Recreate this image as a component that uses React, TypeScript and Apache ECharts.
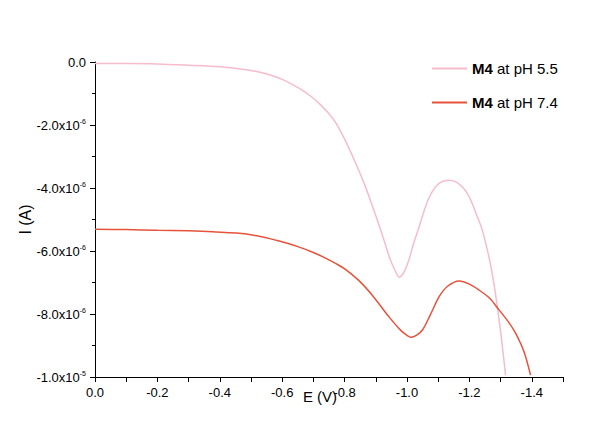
import React, { useEffect, useRef } from "react";
import * as echarts from "echarts";

// E (V) and I (x1e-6 A)
const phLowE = [0, -0.1, -0.2, -0.3, -0.4, -0.5, -0.55, -0.6, -0.655, -0.7, -0.72, -0.75, -0.773, -0.8, -0.826, -0.85, -0.869, -0.89, -0.911, -0.93, -0.943, -0.96, -0.975, -0.99, -1.007, -1.02, -1.039, -1.055, -1.071, -1.09, -1.103, -1.12, -1.135, -1.155, -1.177, -1.195, -1.209, -1.225, -1.241, -1.257, -1.27, -1.282, -1.3, -1.316];
const phLowI = [-0.05, -0.05, -0.06, -0.1, -0.15, -0.27, -0.38, -0.55, -0.84, -1.15, -1.33, -1.64, -1.95, -2.45, -3.0, -3.55, -4.02, -4.6, -5.2, -5.77, -6.18, -6.58, -6.83, -6.68, -6.25, -5.8, -5.23, -4.72, -4.3, -3.98, -3.85, -3.77, -3.75, -3.8, -3.96, -4.2, -4.49, -4.9, -5.33, -5.95, -6.55, -7.25, -8.55, -9.95];

const phHighE = [0, -0.1, -0.2, -0.3, -0.377, -0.485, -0.59, -0.65, -0.698, -0.75, -0.783, -0.805, -0.85, -0.89, -0.943, -0.98, -1.0, -1.012, -1.03, -1.05, -1.075, -1.103, -1.13, -1.167, -1.2, -1.231, -1.265, -1.295, -1.325, -1.348, -1.375, -1.396];
const phHighI = [-5.31, -5.32, -5.34, -5.36, -5.39, -5.46, -5.68, -5.86, -6.04, -6.28, -6.46, -6.6, -6.98, -7.42, -8.1, -8.52, -8.68, -8.74, -8.68, -8.5, -8.02, -7.45, -7.12, -6.95, -7.05, -7.24, -7.5, -7.87, -8.25, -8.61, -9.2, -9.94];

const seriesNames = ["M4 at pH 5.5", "M4 at pH 7.4"];
const seriesColors = ["#f6bccb", "#e5533a"];

const toPairs = (xs: number[], ys: number[]) => xs.map((x, i) => [x, ys[i]]);

export default function App() {
  const ref = useRef<HTMLDivElement>(null);
  useEffect(() => {
    if (!ref.current) return;
    const chart = echarts.init(ref.current, null, { renderer: "svg" });
    const font = "Liberation Sans, Arial, sans-serif";
    chart.setOption({
      animation: false,
      backgroundColor: "#ffffff",
      textStyle: { fontFamily: font },
      grid: { left: 87, top: 54, right: 45, bottom: 47, containLabel: false, outerBoundsMode: "none" },
      legend: {
        orient: "vertical",
        left: 419,
        top: 47,
        itemGap: 17,
        itemWidth: 35,
        itemHeight: 2,
        icon: "rect",
        data: seriesNames,
        textStyle: {
          fontFamily: font,
          fontSize: 15,
          color: "#000",
          lineHeight: 17,
          rich: { b: { fontWeight: "bold", fontSize: 15, fontFamily: font, color: "#000" } },
        },
        formatter: (name: string) => name.replace("M4", "{b|M4}"),
      },
      xAxis: {
        type: "value",
        min: -1.5,
        max: 0,
        interval: 0.1,
        inverse: true,
        name: "E (V)",
        nameLocation: "middle",
        nameGap: 12,
        nameMoveOverlap: false,
        nameTextStyle: { fontSize: 15, color: "#000", fontFamily: font, padding: [0, 18, 0, 0] },
        splitLine: { show: false },
        axisLine: { onZero: false, lineStyle: { color: "#000", width: 1 } },
        axisTick: { length: 5, lineStyle: { color: "#000" } },
        axisLabel: {
          fontSize: 13,
          color: "#000",
          margin: 9,
          showMaxLabel: true,
          showMinLabel: true,
          formatter: (v: number) => {
            const k = Math.round(v * 10);
            return k % 2 === 0 ? (k / 10).toFixed(1) : "";
          },
        },
      },
      yAxis: {
        type: "value",
        min: -10,
        max: 0,
        interval: 2,
        name: "I (A)",
        nameLocation: "middle",
        nameGap: 62,
        nameMoveOverlap: false,
        nameTextStyle: { fontSize: 16, color: "#000", fontFamily: font },
        splitLine: { show: false },
        axisLine: { show: true, onZero: false, lineStyle: { color: "#000", width: 1 } },
        axisTick: { length: 5, lineStyle: { color: "#000" } },
        minorTick: { show: true, splitNumber: 2, length: 3, lineStyle: { color: "#000" } },
        minorSplitLine: { show: false },
        axisLabel: {
          fontSize: 13,
          color: "#000",
          margin: 9,
          rich: { s: { fontSize: 7, color: "#000", padding: [0, 0, 8, 0], fontFamily: font } },
          formatter: (v: number) => {
            if (Math.abs(v) < 1e-9) return "0.0";
            if (Math.abs(v + 10) < 1e-9) return "-1.0x10{s|-5}";
            return v.toFixed(1) + "x10{s|-6}";
          },
        },
      },
      series: [
        {
          name: seriesNames[0],
          type: "line",
          data: toPairs(phLowE, phLowI),
          smooth: 0.3,
          symbol: "none",
          lineStyle: { color: seriesColors[0], width: 1.5 },
          itemStyle: { color: seriesColors[0] },
        },
        {
          name: seriesNames[1],
          type: "line",
          data: toPairs(phHighE, phHighI),
          smooth: 0.3,
          symbol: "none",
          lineStyle: { color: seriesColors[1], width: 1.5 },
          itemStyle: { color: seriesColors[1] },
        },
      ],
    });
    return () => chart.dispose();
  }, []);
  return <div ref={ref} style={{ width: 600, height: 416 }} />;
}
